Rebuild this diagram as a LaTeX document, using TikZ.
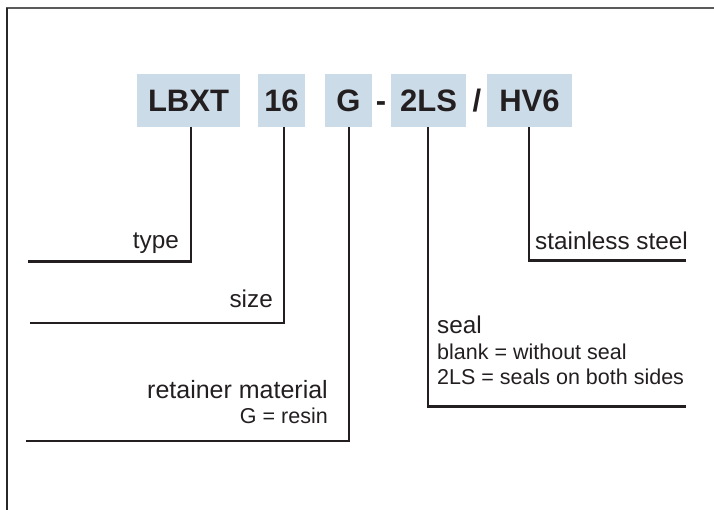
\documentclass[tikz,border=0pt]{standalone}
\usepackage{fontspec}
\setmainfont{Liberation Sans}
\definecolor{boxblue}{RGB}{204,219,232}
\definecolor{ink}{RGB}{35,31,32}
\definecolor{framegray}{RGB}{90,90,90}
\definecolor{frameblack}{RGB}{40,40,40}
\begin{document}
\begin{tikzpicture}[x=1pt,y=-1pt,
  code/.style={fill=boxblue, inner sep=0pt, minimum height=53pt, text height=22.3pt, text depth=0pt,
    font=\fontsize{31}{31}\selectfont\bfseries, text=ink},
  sepmark/.style={inner sep=0pt, text height=22.3pt, text depth=0pt,
    font=\fontsize{31}{31}\selectfont\bfseries, text=ink},
  conn/.style={line width=2.5pt, draw=ink},
  lab/.style={inner sep=0pt, font=\fontsize{24.3}{24}\selectfont, text=ink},
  sublab/.style={inner sep=0pt, font=\fontsize{21.5}{21}\selectfont, text=ink}]
\useasboundingbox (0,0) rectangle (714,510);
% partial frame
\draw[framegray, line width=1.5pt] (714,8) -- (6.25,8);
\draw[frameblack, line width=1.5pt] (7,8) -- (7,510);
% code boxes
\node[code, minimum width=103pt] (lbxt) at (188.5,100.5) {LBXT};
\node[code, minimum width=47pt] (sz) at (281.5,100.5) {16};
\node[code, minimum width=47pt] (gg) at (348.5,100.5) {G};
\node[sepmark] (dash) at (381,100.5) {-};
\node[code, minimum width=75pt] (tls) at (428.5,100.5) {2LS};
\node[sepmark] (slash) at (477,100.5) {/};
\node[code, minimum width=85pt] (hv) at (529.5,100.5) {HV6};
% labels
\node[lab, anchor=base east] (typel) at (179,249) {type};
\node[lab, anchor=base east] (sizel) at (273,308) {size};
\node[lab, anchor=base east, font=\fontsize{25}{25}\selectfont] (retl) at (328,398) {retainer material};
\node[sublab, anchor=base east] (retg) at (328,423) {G = resin};
\node[lab, anchor=base west] (stainl) at (535,250) {stainless steel};
\node[lab, anchor=base west] (seall) at (437,333) {seal};
\node[sublab, anchor=base west] (blankl) at (437,359) {blank = without seal};
\node[sublab, anchor=base west] (twol) at (437,384) {2LS = seals on both sides};
% connector ends
\coordinate (typeend) at (28,261.5);
\coordinate (sizeend) at (30,323);
\coordinate (retend) at (26,441);
\coordinate (sealend) at (686,406.5);
\coordinate (stainend) at (686,260.5);
% connectors
\draw[conn] ([xshift=2.5pt]lbxt.south) |- (typeend);
\draw[conn] ([xshift=2.5pt]sz.south) |- (sizeend);
\draw[conn] ([xshift=0.5pt]gg.south) |- (retend);
\draw[conn] ([xshift=-0.5pt]tls.south) |- (sealend);
\draw[conn] ([xshift=-0.5pt]hv.south) |- (stainend);
\end{tikzpicture}
\end{document}
